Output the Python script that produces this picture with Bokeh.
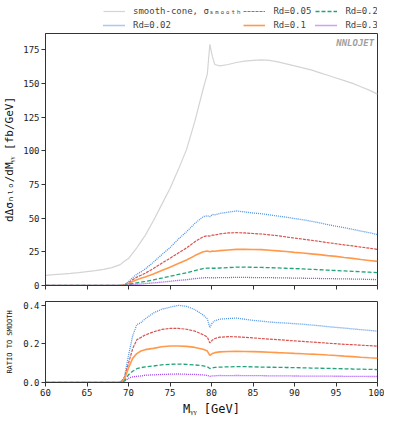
import numpy as np
from bokeh.plotting import figure
from bokeh.layouts import column
from bokeh.models import Range1d, FixedTicker, Legend, LegendItem, Label, NumeralTickFormatter
from bokeh.embed import file_html
from bokeh.resources import INLINE

# bin centres (GeV)
m_yy = [60, 61, 62, 63, 64, 65, 66, 67, 68, 69, 69.5, 70, 70.5, 71, 71.5, 72, 73, 74, 75, 76,
        77, 78, 79, 79.5, 79.8, 80.1, 80.4, 81, 82, 83, 84, 85, 86, 87, 88, 89, 90, 91, 92, 93,
        94, 95, 96, 97, 98, 99, 100]

smooth = [7.5, 8.0, 8.5, 9.0, 9.6, 10.3, 11.0, 12.0, 13.3, 15.5, 18.0, 20.0, 24.0, 28.0, 32.5,
          37.0, 48.0, 60.0, 72.0, 86.0, 101.0, 122.0, 146.0, 157.0, 179.0, 170.0, 164.0, 163.0,
          164.0, 165.5, 166.5, 167.0, 167.5, 167.0, 166.0, 164.5, 163.0, 161.5, 160.0, 158.0,
          156.0, 154.0, 152.0, 150.0, 147.5, 145.0, 142.0]

rd_002 = [0, 0, 0, 0, 0, 0, 0, 0, 0, 0, 0.5, 2.8, 5.8, 8.4, 10.1, 12.2, 17.3, 22.8, 28.1, 34.4,
          39.9, 46.1, 51.1, 51.8, 51.0, 52.7, 52.5, 53.5, 54.4, 55.3, 54.6, 53.8, 53.3, 52.4,
          51.5, 50.7, 49.7, 48.8, 47.7, 46.5, 45.2, 44.0, 42.9, 41.7, 40.4, 39.2, 37.8]
rd_005 = [0, 0, 0, 0, 0, 0, 0, 0, 0, 0, 0.4, 2.0, 4.2, 6.2, 7.6, 9.1, 12.6, 16.5, 20.2, 24.1,
          27.9, 32.5, 36.2, 36.9, 36.7, 37.4, 37.4, 38.3, 39.0, 39.2, 39.0, 38.6, 38.2, 37.6,
          36.9, 36.0, 35.2, 34.4, 33.6, 32.7, 31.8, 31.0, 30.1, 29.4, 28.5, 27.7, 26.8]
rd_01 = [0, 0, 0, 0, 0, 0, 0, 0, 0, 0, 0.3, 1.5, 3.0, 4.2, 5.3, 6.3, 8.5, 11.1, 13.6, 16.3,
         18.9, 22.2, 25.1, 25.6, 25.1, 25.5, 25.4, 25.9, 26.4, 26.8, 26.8, 26.7, 26.6, 26.2,
         25.7, 25.2, 24.6, 24.1, 23.5, 22.9, 22.2, 21.6, 20.8, 20.1, 19.3, 18.6, 17.9]
rd_02 = [0, 0, 0, 0, 0, 0, 0, 0, 0, 0, 0.14, 0.8, 1.4, 2.0, 2.5, 3.0, 4.1, 5.5, 6.8, 8.2,
         9.5, 11.1, 12.6, 12.9, 12.9, 12.8, 12.8, 13.0, 13.3, 13.6, 13.7, 13.5, 13.4, 13.2,
         13.1, 12.8, 12.6, 12.3, 12.0, 11.7, 11.4, 11.1, 10.8, 10.5, 10.2, 9.9, 9.5]
rd_03 = [0, 0, 0, 0, 0, 0, 0, 0, 0, 0, 0.09, 0.44, 0.7, 0.9, 1.1, 1.4, 1.9, 2.5, 3.1, 3.8,
         4.3, 5.1, 5.7, 5.8, 5.7, 5.8, 5.7, 5.9, 5.9, 6.0, 6.0, 5.9, 5.9, 5.8, 5.7, 5.6, 5.5,
         5.4, 5.3, 5.2, 5.1, 5.0, 4.9, 4.8, 4.7, 4.5, 4.4]

x_ticks = [60, 65, 70, 75, 80, 85, 90, 95, 100]
y_ticks_main = [0, 25, 50, 75, 100, 125, 150, 175]
y_ticks_ratio = [0.0, 0.2, 0.4]

FONT = "DejaVu Sans Mono"
AXC = "#333333"

SMOOTH_STYLE = ("#d4d4d4", "solid", 1.2)
styles = {
    "0.02": ("#4f93e6", "1 1", 1.3),
    "0.05": ("#d9534f", "3 1", 1.2),
    "0.1": ("#ff9a4d", "solid", 1.6),
    "0.2": ("#22a37a", "4 2", 1.3),
    "0.3": ("#a040f0", "1 1", 1.3),
}
rd_data = {"0.02": rd_002, "0.05": rd_005, "0.1": rd_01, "0.2": rd_02, "0.3": rd_03}

xr = Range1d(60, 100)


def style_axes(p):
    for ax in (p.xaxis, p.yaxis):
        ax.axis_line_color = AXC
        ax.major_tick_line_color = AXC
        ax.minor_tick_line_color = None
        ax.major_tick_in = 0
        ax.major_tick_out = 4
        ax.major_label_text_font = FONT
        ax.major_label_text_font_size = "9px"
        ax.major_label_text_color = "#222222"
        ax.major_label_standoff = 2
        ax.axis_label_text_font = FONT
        ax.axis_label_text_font_style = "normal"
        ax.axis_label_text_color = "#111111"
    p.xgrid.visible = False
    p.ygrid.visible = False
    p.outline_line_color = AXC
    p.outline_line_alpha = 1
    p.background_fill_color = "white"
    p.border_fill_color = "white"


# ---- legend strip above the main panel (its own renderers sit outside its visible range) ----
lf = figure(width=384, height=33, x_range=xr, y_range=Range1d(-2, -1),
            x_axis_type=None, y_axis_type=None, output_backend="svg",
            toolbar_location=None, min_border_left=37, min_border_right=0,
            min_border_top=0, min_border_bottom=0)
lf.outline_line_color = None
lf.xgrid.visible = False
lf.ygrid.visible = False
lr = {}
c, d, w = SMOOTH_STYLE
lr["smooth"] = lf.line(m_yy, smooth, line_color=c, line_dash=d, line_width=w)
for k in ["0.02", "0.05", "0.1", "0.2", "0.3"]:
    c, d, w = styles[k]
    lr[k] = lf.line(m_yy, rd_data[k], line_color=c, line_dash=d, line_width=w)
items = [
    LegendItem(label="smooth-cone, \u03c3\u209b\u2098\u2092\u2092\u209c\u2095", renderers=[lr["smooth"]]),
    LegendItem(label="Rd=0.05", renderers=[lr["0.05"]]),
    LegendItem(label="Rd=0.2", renderers=[lr["0.2"]]),
    LegendItem(label="Rd=0.02", renderers=[lr["0.02"]]),
    LegendItem(label="Rd=0.1", renderers=[lr["0.1"]]),
    LegendItem(label="Rd=0.3", renderers=[lr["0.3"]]),
]
leg = Legend(items=items, orientation="horizontal", ncols=3, location=(56, 0),
             label_text_font=FONT, label_text_font_size="9px", label_height=12,
             label_width=40, glyph_width=22, glyph_height=8, spacing=2, padding=2,
             margin=0, label_standoff=8, background_fill_alpha=0, border_line_alpha=0)
lf.add_layout(leg)

# ---- main panel ----
p = figure(width=384, height=260, x_range=xr, y_range=Range1d(0, 187),
           output_backend="svg", toolbar_location=None, min_border_left=37,
           min_border_right=7, min_border_top=0, min_border_bottom=8)
style_axes(p)
p.xaxis.ticker = FixedTicker(ticks=x_ticks)
p.xaxis.major_label_text_alpha = 0
p.xaxis.major_label_text_font_size = "1px"
p.yaxis.ticker = FixedTicker(ticks=y_ticks_main)
p.yaxis.axis_label = "d\u0394\u03c3\u2099\u2097\u2092/dM\u1d67\u1d67 [fb/GeV]"
p.yaxis.axis_label_text_font_size = "11px"
p.yaxis.axis_label_standoff = 4

c, d, w = SMOOTH_STYLE
p.line(m_yy, smooth, line_color=c, line_dash=d, line_width=w)
for k in ["0.02", "0.05", "0.1", "0.2", "0.3"]:
    c, d, w = styles[k]
    p.line(m_yy, rd_data[k], line_color=c, line_dash=d, line_width=w)

p.add_layout(Label(x=99.6, y=184, text="NNLOJET", text_font=FONT, text_font_size="9px",
                   text_font_style="bold italic", text_color="#a0a0a0",
                   text_align="right", text_baseline="top"))

# ---- ratio panel ----
ratio = {k: [v / s for v, s in zip(rd_data[k], smooth)] for k in rd_data}
q = figure(width=384, height=125, x_range=xr, y_range=Range1d(0, 0.42),
           output_backend="svg", toolbar_location=None, min_border_left=37,
           min_border_right=7, min_border_top=8, min_border_bottom=4)
style_axes(q)
q.xaxis.ticker = FixedTicker(ticks=x_ticks)
q.yaxis.ticker = FixedTicker(ticks=y_ticks_ratio)
q.yaxis.formatter = NumeralTickFormatter(format="0.0")
q.xaxis.axis_label = "M\u1d67\u1d67 [GeV]"
q.xaxis.axis_label_text_font_size = "12px"
q.xaxis.axis_label_standoff = 3
q.yaxis.axis_label = "RATIO TO SMOOTH"
q.yaxis.axis_label_text_font_size = "7px"
q.yaxis.axis_label_standoff = 6
for k in ["0.02", "0.05", "0.1", "0.2", "0.3"]:
    c, d, w = styles[k]
    q.line(m_yy, ratio[k], line_color=c, line_dash=d, line_width=w)

layout = column(lf, p, q)
open("out.html", "w").write(file_html(layout, INLINE))
